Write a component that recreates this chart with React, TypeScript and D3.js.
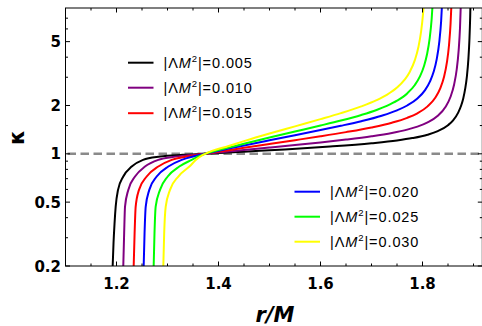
import React from 'react';
import * as d3 from 'd3';

const W = 482;
const H = 326;
const PL = 65.5, PR = 482.3, PT = 8, PB = 266;

const lambdaLabels = ['0.005', '0.010', '0.015', '0.020', '0.025', '0.030'];
const colors = ['#000000', '#800080', '#ff0000', '#0000ff', '#00ff00', '#ffff00'];

const r005 = [1.1925, 1.1942, 1.1962, 1.1984, 1.2030, 1.2133, 1.2298, 1.2520, 1.2853, 1.3300, 1.3740, 1.42, 1.45, 1.52, 1.6186, 1.70, 1.75, 1.78, 1.81, 1.83, 1.85, 1.86, 1.87, 1.876, 1.88, 1.884, 1.887, 1.89, 1.892, 1.8935, 1.8945];
const k005 = [0.20, 0.28, 0.37, 0.469, 0.596, 0.722, 0.833, 0.917, 0.962, 0.985, 1.00, 1.018, 1.031, 1.061, 1.110, 1.164, 1.211, 1.253, 1.316, 1.385, 1.508, 1.617, 1.807, 2.007, 2.222, 2.572, 3.027, 3.903, 5.135, 7.135, 10.1];

const r010 = [1.2133, 1.2150, 1.2167, 1.2231, 1.2363, 1.2559, 1.2820, 1.3100, 1.3400, 1.3740, 1.42, 1.45, 1.50, 1.55, 1.60, 1.65, 1.70, 1.74, 1.77, 1.79, 1.81, 1.83, 1.845, 1.855, 1.862, 1.867, 1.871, 1.8735, 1.8755];
const k010 = [0.20, 0.32, 0.469, 0.596, 0.722, 0.833, 0.917, 0.955, 0.980, 1.00, 1.033, 1.055, 1.093, 1.133, 1.176, 1.226, 1.286, 1.349, 1.415, 1.477, 1.569, 1.725, 1.956, 2.267, 2.705, 3.34, 4.456, 6.057, 9.258];

const r015 = [1.2337, 1.2355, 1.2376, 1.2441, 1.2592, 1.2820, 1.3082, 1.3350, 1.3570, 1.3740, 1.42, 1.45, 1.50, 1.55, 1.60, 1.65, 1.70, 1.74, 1.77, 1.79, 1.81, 1.825, 1.835, 1.842, 1.848, 1.852, 1.855, 1.857];
const k015 = [0.20, 0.32, 0.469, 0.596, 0.722, 0.833, 0.917, 0.960, 0.985, 1.00, 1.054, 1.090, 1.151, 1.216, 1.286, 1.365, 1.460, 1.563, 1.676, 1.789, 1.975, 2.236, 2.567, 3.0, 3.734, 4.764, 6.433, 8.935];

const r020 = [1.2533, 1.2550, 1.2573, 1.2643, 1.2788, 1.3016, 1.3278, 1.3520, 1.3740, 1.42, 1.45, 1.50, 1.55, 1.60, 1.64, 1.68, 1.72, 1.75, 1.77, 1.79, 1.805, 1.815, 1.822, 1.828, 1.833, 1.8365, 1.839];
const k020 = [0.20, 0.32, 0.469, 0.596, 0.722, 0.833, 0.917, 0.965, 1.00, 1.077, 1.128, 1.215, 1.307, 1.406, 1.495, 1.597, 1.728, 1.866, 2.000, 2.212, 2.495, 2.836, 3.254, 3.904, 5.0, 6.679, 9.44];

const r025 = [1.2729, 1.2745, 1.2768, 1.2853, 1.3004, 1.3231, 1.3475, 1.3595, 1.3740, 1.42, 1.45, 1.50, 1.55, 1.60, 1.64, 1.68, 1.71, 1.73, 1.75, 1.77, 1.785, 1.795, 1.803, 1.809, 1.814, 1.818, 1.8205];
const k025 = [0.20, 0.32, 0.469, 0.596, 0.722, 0.833, 0.917, 0.960, 1.00, 1.093, 1.155, 1.262, 1.376, 1.500, 1.612, 1.747, 1.876, 1.989, 2.142, 2.379, 2.684, 3.037, 3.526, 4.184, 5.217, 6.944, 9.25];

const r030 = [1.2918, 1.2935, 1.2965, 1.3049, 1.3212, 1.3430, 1.3560, 1.3645, 1.3740, 1.42, 1.45, 1.50, 1.55, 1.60, 1.64, 1.68, 1.71, 1.73, 1.75, 1.765, 1.775, 1.785, 1.792, 1.797, 1.801, 1.8035];
const k030 = [0.20, 0.32, 0.469, 0.596, 0.722, 0.833, 0.917, 0.962, 1.00, 1.119, 1.199, 1.337, 1.483, 1.644, 1.792, 1.975, 2.159, 2.330, 2.585, 2.897, 3.237, 3.832, 4.626, 5.706, 7.424, 9.57];

const seriesR = [r005, r010, r015, r020, r025, r030];
const seriesK = [k005, k010, k015, k020, k025, k030];

const xMajor = [1.2, 1.4, 1.6, 1.8];
const xMinor = [1.15, 1.25, 1.3, 1.35, 1.45, 1.5, 1.55, 1.65, 1.7, 1.75, 1.85, 1.9];
const yMajor = [0.2, 0.5, 1, 2, 5];
const yMinor = [0.3, 0.4, 0.6, 0.7, 0.8, 0.9, 1.5, 3, 4, 6, 7];

const x = d3.scaleLinear().domain([1.1, 1.1 + (PR - PL) / 510]).range([PL, PR]);
const y = d3.scaleLog().domain([0.2, 8.1]).range([PB, PT]);

export default function App() {
  const line = d3
    .line<[number, number]>()
    .x((d) => x(d[0]))
    .y((d) => y(d[1]))
    .curve(d3.curveMonotoneX);

  const majLen = 4.5;
  const minLen = 2.5;
  const tickFont = "'DejaVu Sans', sans-serif";
  const legFont = "'Liberation Sans', Arial, sans-serif";

  const legend1 = [0, 1, 2];
  const legend2 = [3, 4, 5];
  const leg1Y = [62.7, 87.7, 113.2];
  const leg2Y = [191.7, 216.7, 241.7];

  const legendItem = (i: number, lx: number, ly: number) => (
    <g key={'leg' + i}>
      <line x1={lx} x2={lx + 25.5} y1={ly} y2={ly} stroke={colors[i]} strokeWidth={2} />
      <text x={lx + 35.5} y={ly + 5.2} fontFamily={legFont} fontSize={14.5} letterSpacing={0.9} fill="#000">
        |Λ<tspan fontStyle="italic">M</tspan>
        <tspan fontSize={9.5} dy={-6}>2</tspan>
        <tspan dy={6}>|={lambdaLabels[i]}</tspan>
      </text>
    </g>
  );

  return (
    <svg width={W} height={H} style={{ position: 'absolute', left: 0, top: 0, background: '#fff' }}>
      <defs>
        <clipPath id="plotclip">
          <rect x={PL} y={PT} width={PR - PL} height={PB - PT} />
        </clipPath>
      </defs>
      <rect x={0} y={0} width={W} height={H} fill="#fff" />

      <line x1={PL} x2={PR} y1={y(1)} y2={y(1)} stroke="#8a8a8a" strokeWidth={2.5} strokeDasharray="8.5 4.5" strokeDashoffset={-2} />

      <g clipPath="url(#plotclip)">
        {seriesR.map((rs, i) => (
          <path
            key={'s' + i}
            d={line(rs.map((r, j) => [r, seriesK[i][j]] as [number, number])) || ''}
            fill="none"
            stroke={colors[i]}
            strokeWidth={2}
          />
        ))}
      </g>

      <rect x={PL} y={PT} width={PR - PL} height={PB - PT} fill="none" stroke="#000" strokeWidth={1} />

      {xMajor.map((v) => (
        <g key={'xM' + v}>
          <line x1={x(v)} x2={x(v)} y1={PB} y2={PB - majLen} stroke="#000" strokeWidth={1} />
          <line x1={x(v)} x2={x(v)} y1={PT} y2={PT + majLen} stroke="#000" strokeWidth={1} />
          <text x={x(v)} y={288.5} textAnchor="middle" fontFamily={tickFont} fontWeight="bold" fontSize={15}>
            {v.toFixed(1)}
          </text>
        </g>
      ))}
      {xMinor.map((v) => (
        <g key={'xm' + v}>
          <line x1={x(v)} x2={x(v)} y1={PB} y2={PB - minLen} stroke="#000" strokeWidth={1} />
          <line x1={x(v)} x2={x(v)} y1={PT} y2={PT + minLen} stroke="#000" strokeWidth={1} />
        </g>
      ))}

      {yMajor.map((v) => (
        <g key={'yM' + v}>
          <line x1={PL} x2={PL + majLen} y1={y(v)} y2={y(v)} stroke="#000" strokeWidth={1} />
          <line x1={PR} x2={PR - majLen} y1={y(v)} y2={y(v)} stroke="#000" strokeWidth={1} />
          <text x={61} y={y(v) + 5.5} textAnchor="end" fontFamily={tickFont} fontWeight="bold" fontSize={15}>
            {String(v)}
          </text>
        </g>
      ))}
      {yMinor.map((v) => (
        <g key={'ym' + v}>
          <line x1={PL} x2={PL + minLen} y1={y(v)} y2={y(v)} stroke="#000" strokeWidth={1} />
          <line x1={PR} x2={PR - minLen} y1={y(v)} y2={y(v)} stroke="#000" strokeWidth={1} />
        </g>
      ))}

      <text x={275} y={322} textAnchor="middle" fontFamily={tickFont} fontWeight="bold" fontStyle="italic" fontSize={21}>
        r/M
      </text>
      <text
        transform="translate(23.5,137.5) rotate(-90)"
        textAnchor="middle"
        fontFamily={tickFont}
        fontWeight="bold"
        fontSize={21}
      >
        κ
      </text>

      {legend1.map((i, j) => legendItem(i, 128, leg1Y[j]))}
      {legend2.map((i, j) => legendItem(i, 294.5, leg2Y[j]))}
    </svg>
  );
}
